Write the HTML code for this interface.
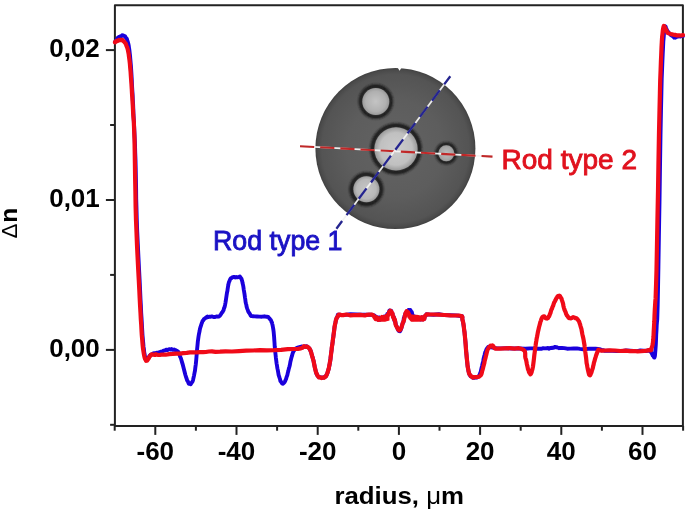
<!DOCTYPE html>
<html><head><meta charset="utf-8"><title>Delta n vs radius</title>
<style>html,body{margin:0;padding:0;background:#fff;} svg{display:block;filter:blur(0.4px);}</style>
</head><body>
<svg width="685" height="511" viewBox="0 0 685 511">
<rect x="114.9" y="5.3" width="568.0" height="420.59999999999997" fill="none" stroke="#222" stroke-width="2.0" stroke-linejoin="round"/>
<line x1="105.9" y1="50.1" x2="114.9" y2="50.1" stroke="#222" stroke-width="2.0"/>
<line x1="110.1" y1="125.0" x2="114.9" y2="125.0" stroke="#222" stroke-width="2.0"/>
<line x1="105.9" y1="200.0" x2="114.9" y2="200.0" stroke="#222" stroke-width="2.0"/>
<line x1="110.1" y1="274.9" x2="114.9" y2="274.9" stroke="#222" stroke-width="2.0"/>
<line x1="105.9" y1="349.9" x2="114.9" y2="349.9" stroke="#222" stroke-width="2.0"/>
<line x1="110.1" y1="424.8" x2="114.9" y2="424.8" stroke="#222" stroke-width="2.0"/>
<line x1="114.7" y1="425.9" x2="114.7" y2="430.7" stroke="#222" stroke-width="2.0"/>
<line x1="155.3" y1="425.9" x2="155.3" y2="434.9" stroke="#222" stroke-width="2.0"/>
<line x1="195.9" y1="425.9" x2="195.9" y2="430.7" stroke="#222" stroke-width="2.0"/>
<line x1="236.5" y1="425.9" x2="236.5" y2="434.9" stroke="#222" stroke-width="2.0"/>
<line x1="277.1" y1="425.9" x2="277.1" y2="430.7" stroke="#222" stroke-width="2.0"/>
<line x1="317.7" y1="425.9" x2="317.7" y2="434.9" stroke="#222" stroke-width="2.0"/>
<line x1="358.3" y1="425.9" x2="358.3" y2="430.7" stroke="#222" stroke-width="2.0"/>
<line x1="398.9" y1="425.9" x2="398.9" y2="434.9" stroke="#222" stroke-width="2.0"/>
<line x1="439.5" y1="425.9" x2="439.5" y2="430.7" stroke="#222" stroke-width="2.0"/>
<line x1="480.1" y1="425.9" x2="480.1" y2="434.9" stroke="#222" stroke-width="2.0"/>
<line x1="520.7" y1="425.9" x2="520.7" y2="430.7" stroke="#222" stroke-width="2.0"/>
<line x1="561.3" y1="425.9" x2="561.3" y2="434.9" stroke="#222" stroke-width="2.0"/>
<line x1="601.9" y1="425.9" x2="601.9" y2="430.7" stroke="#222" stroke-width="2.0"/>
<line x1="642.5" y1="425.9" x2="642.5" y2="434.9" stroke="#222" stroke-width="2.0"/>
<line x1="683.1" y1="425.9" x2="683.1" y2="430.7" stroke="#222" stroke-width="2.0"/>
<text x="99.8" y="57.0" text-anchor="end" font-family="'Liberation Sans', Arial, sans-serif" font-weight="bold" font-size="26" fill="#000">0,02</text>
<text x="99.8" y="207.0" text-anchor="end" font-family="'Liberation Sans', Arial, sans-serif" font-weight="bold" font-size="26" fill="#000">0,01</text>
<text x="99.8" y="357.0" text-anchor="end" font-family="'Liberation Sans', Arial, sans-serif" font-weight="bold" font-size="26" fill="#000">0,00</text>
<text x="155.3" y="460" text-anchor="middle" font-family="'Liberation Sans', Arial, sans-serif" font-weight="bold" font-size="26" fill="#000">-60</text>
<text x="236.5" y="460" text-anchor="middle" font-family="'Liberation Sans', Arial, sans-serif" font-weight="bold" font-size="26" fill="#000">-40</text>
<text x="317.7" y="460" text-anchor="middle" font-family="'Liberation Sans', Arial, sans-serif" font-weight="bold" font-size="26" fill="#000">-20</text>
<text x="398.9" y="460" text-anchor="middle" font-family="'Liberation Sans', Arial, sans-serif" font-weight="bold" font-size="26" fill="#000">0</text>
<text x="480.1" y="460" text-anchor="middle" font-family="'Liberation Sans', Arial, sans-serif" font-weight="bold" font-size="26" fill="#000">20</text>
<text x="561.3" y="460" text-anchor="middle" font-family="'Liberation Sans', Arial, sans-serif" font-weight="bold" font-size="26" fill="#000">40</text>
<text x="642.5" y="460" text-anchor="middle" font-family="'Liberation Sans', Arial, sans-serif" font-weight="bold" font-size="26" fill="#000">60</text>
<text x="334.4" y="504.2" font-family="'Liberation Sans', Arial, sans-serif" font-weight="bold" font-size="24" textLength="129.6" lengthAdjust="spacingAndGlyphs" fill="#000">radius, <tspan font-weight="normal">μ</tspan>m</text>
<text transform="translate(16.9 238.6) rotate(-90)" font-family="'Liberation Sans', Arial, sans-serif" font-size="24.5" fill="#000"><tspan font-weight="normal" font-size="22.5">Δ</tspan><tspan font-weight="bold" dx="0.8">n</tspan></text>

<defs>
 <radialGradient id="disk" cx="0.5" cy="0.5" r="0.5">
  <stop offset="0" stop-color="#636363"/>
  <stop offset="0.6" stop-color="#5d5d5d"/>
  <stop offset="0.92" stop-color="#545454"/>
  <stop offset="0.975" stop-color="#4a4a4a"/>
  <stop offset="1" stop-color="#404040"/>
 </radialGradient>
 <radialGradient id="core" cx="0.5" cy="0.5" r="0.5">
  <stop offset="0" stop-color="#cdcdcd"/>
  <stop offset="0.7" stop-color="#c4c4c4"/>
  <stop offset="1" stop-color="#b0b0b0"/>
 </radialGradient>
 <filter id="soft" x="-30%" y="-30%" width="160%" height="160%"><feGaussianBlur stdDeviation="0.85"/></filter>
 <filter id="soft2" x="-30%" y="-30%" width="160%" height="160%"><feGaussianBlur stdDeviation="0.5"/></filter>
</defs>
<ellipse cx="395.4" cy="148.5" rx="80.0" ry="80.6" fill="url(#disk)"/>
<polygon points="397.6,67.5 401.6,67.5 399.6,70.8" fill="#fff"/>
<radialGradient id="rg0" cx="0.5" cy="0.5" r="0.5"><stop offset="0" stop-color="#c4c4c4"/><stop offset="0.75" stop-color="#b0b0b0"/><stop offset="1" stop-color="#9a9a9a"/></radialGradient>
<circle cx="375.8" cy="101.5" r="15.25" fill="none" stroke="#1c1c1c" stroke-width="3.80" filter="url(#soft)"/>
<circle cx="375.8" cy="101.5" r="13.5" fill="url(#rg0)" filter="url(#soft2)"/>
<radialGradient id="rg1" cx="0.5" cy="0.5" r="0.5"><stop offset="0" stop-color="#cccccc"/><stop offset="0.75" stop-color="#c0c0c0"/><stop offset="1" stop-color="#9a9a9a"/></radialGradient>
<circle cx="396.0" cy="148.9" r="23.55" fill="none" stroke="#1c1c1c" stroke-width="4.20" filter="url(#soft)"/>
<circle cx="396.0" cy="148.9" r="21.6" fill="url(#rg1)" filter="url(#soft2)"/>
<radialGradient id="rg2" cx="0.5" cy="0.5" r="0.5"><stop offset="0" stop-color="#c6c6c6"/><stop offset="0.75" stop-color="#b8b8b8"/><stop offset="1" stop-color="#9a9a9a"/></radialGradient>
<circle cx="366.4" cy="189.2" r="14.90" fill="none" stroke="#1c1c1c" stroke-width="4.10" filter="url(#soft)"/>
<circle cx="366.4" cy="189.2" r="13.0" fill="url(#rg2)" filter="url(#soft2)"/>
<radialGradient id="rg3" cx="0.5" cy="0.5" r="0.5"><stop offset="0" stop-color="#bcbcbc"/><stop offset="0.75" stop-color="#a8a8a8"/><stop offset="1" stop-color="#9a9a9a"/></radialGradient>
<circle cx="446.3" cy="153.3" r="9.40" fill="none" stroke="#1c1c1c" stroke-width="3.10" filter="url(#soft)"/>
<circle cx="446.3" cy="153.3" r="8.0" fill="url(#rg3)" filter="url(#soft2)"/>
<line x1="300" y1="146.2" x2="492.5" y2="156.6" stroke="#f4f4f4" stroke-width="1.8" opacity="0.95"/>
<line x1="300" y1="146.2" x2="492.5" y2="156.6" stroke="#c02828" stroke-width="2.1" stroke-dasharray="14.2 6"/>
<line x1="336.4" y1="228.7" x2="450.3" y2="76.2" stroke="#f4f4f4" stroke-width="1.8" opacity="0.95"/>
<line x1="450.3" y1="76.2" x2="336.4" y2="228.7" stroke="#25258f" stroke-width="2.3" stroke-dasharray="13 7.4" stroke-dashoffset="2.8"/>

<text x="501.5" y="168.9" font-family="'Liberation Sans', 'DejaVu Sans', sans-serif" font-size="27.5" textLength="135.5" lengthAdjust="spacingAndGlyphs" fill="#e0121e" stroke="#e0121e" stroke-width="0.85">Rod type 2</text>
<text x="213" y="250.2" font-family="'Liberation Sans', 'DejaVu Sans', sans-serif" font-size="27" textLength="129.5" lengthAdjust="spacingAndGlyphs" fill="#1a12c4" stroke="#1a12c4" stroke-width="0.85">Rod type 1</text>
<path d="M115.0 41.8 L115.3 41.6 L115.8 40.8 L116.3 40.2 L116.9 39.4 L117.5 38.2 L118.0 37.6 L118.5 37.8 L119.0 36.9 L119.5 36.6 L120.0 36.9 L120.5 36.2 L121.0 36.3 L121.4 35.8 L121.9 35.7 L122.2 35.2 L122.6 35.5 L123.1 35.7 L123.5 35.5 L124.0 35.9 L124.5 36.2 L125.0 36.2 L125.5 37.2 L126.0 37.8 L126.5 38.3 L126.9 39.0 L127.3 40.6 L127.7 41.4 L128.1 42.9 L128.5 44.5 L128.8 46.2 L129.1 48.4 L129.4 50.2 L129.7 53.0 L130.0 55.4 L130.3 58.9 L130.6 62.3 L130.9 65.6 L131.2 70.1 L131.5 74.9 L131.8 80.4 L132.0 85.0 L132.3 90.1 L132.6 94.6 L132.8 99.5 L133.1 104.2 L133.3 109.1 L133.5 114.5 L133.8 120.1 L134.1 126.2 L134.4 132.0 L134.7 138.5 L135.0 145.1 L135.2 152.5 L135.5 160.1 L135.7 168.5 L135.9 178.4 L136.1 188.5 L136.2 198.8 L136.5 209.2 L136.8 220.2 L137.2 231.2 L137.8 244.0 L138.4 256.3 L139.0 268.3 L139.6 279.6 L140.1 290.3 L140.5 299.0 L140.9 305.9 L141.2 313.2 L141.6 319.0 L141.9 324.4 L142.2 329.8 L142.5 335.1 L142.9 339.5 L143.2 342.7 L143.5 346.5 L143.9 349.0 L144.2 352.2 L144.6 354.1 L144.9 356.2 L145.3 357.7 L145.7 358.3 L146.1 359.4 L146.5 359.3 L146.9 359.3 L147.3 359.5 L147.7 358.5 L148.1 358.0 L148.6 357.5 L149.0 357.1 L149.4 356.2 L149.8 355.6 L150.2 355.8 L150.6 354.8 L151.2 354.8 L152.0 354.3 L153.1 353.5 L154.4 353.2 L155.8 353.0 L157.3 352.7 L158.7 352.4 L160.0 352.0 L161.1 351.7 L162.2 351.6 L163.2 350.9 L164.2 350.5 L165.1 350.4 L166.0 349.8 L166.8 349.7 L167.4 350.1 L168.1 349.6 L168.7 349.6 L169.3 349.1 L170.0 349.4 L170.8 349.6 L171.6 349.1 L172.5 349.7 L173.4 349.8 L174.2 349.4 L175.0 350.1 L175.7 350.2 L176.3 350.6 L176.8 350.6 L177.4 351.2 L177.9 351.8 L178.5 352.1 L179.1 353.3 L179.6 355.1 L180.2 356.8 L180.8 358.0 L181.4 360.0 L182.0 362.1 L182.6 364.1 L183.3 366.8 L184.0 369.5 L184.7 372.3 L185.4 375.0 L186.0 376.8 L186.6 378.7 L187.2 380.6 L187.8 381.3 L188.4 382.8 L188.9 383.8 L189.5 383.8 L190.1 383.9 L190.7 384.2 L191.3 383.2 L191.9 382.4 L192.5 381.4 L193.0 380.2 L193.5 377.8 L194.0 375.6 L194.5 373.0 L195.0 370.5 L195.4 367.1 L195.8 364.3 L196.2 360.3 L196.5 356.6 L196.8 352.9 L197.1 349.2 L197.5 345.2 L197.8 341.8 L198.2 338.9 L198.5 336.8 L198.9 334.3 L199.2 332.8 L199.6 331.0 L200.0 328.7 L200.4 327.2 L200.8 326.2 L201.2 324.8 L201.6 323.7 L202.1 322.3 L202.5 321.2 L203.0 320.5 L203.4 320.2 L203.9 319.2 L204.4 318.7 L205.0 318.4 L205.5 317.9 L206.0 317.5 L206.4 317.6 L206.9 316.8 L207.4 316.4 L208.1 317.0 L209.0 316.8 L210.2 316.8 L211.8 316.4 L213.5 317.0 L215.2 317.0 L216.8 316.4 L218.0 316.7 L218.9 316.5 L219.6 316.0 L220.1 315.4 L220.6 314.7 L221.0 314.1 L221.5 313.3 L222.0 312.4 L222.6 311.9 L223.1 310.8 L223.6 310.1 L224.0 308.2 L224.5 307.3 L225.0 305.2 L225.4 303.1 L225.8 300.6 L226.2 298.0 L226.6 295.3 L227.0 292.6 L227.4 291.1 L227.7 288.6 L228.0 286.7 L228.3 285.2 L228.6 283.4 L229.0 281.9 L229.4 281.2 L229.9 279.9 L230.4 278.9 L230.9 278.2 L231.4 278.2 L232.0 277.5 L232.6 277.4 L233.2 277.0 L233.9 276.9 L234.6 277.2 L235.3 277.5 L236.0 277.0 L236.7 277.4 L237.5 277.3 L238.3 277.1 L239.1 277.0 L239.9 276.5 L240.5 277.4 L241.0 278.4 L241.5 278.7 L241.9 280.2 L242.3 281.6 L242.6 283.3 L243.0 284.9 L243.4 286.9 L243.7 289.3 L244.0 291.0 L244.4 293.3 L244.7 295.6 L245.0 297.7 L245.3 299.5 L245.6 302.1 L246.0 303.8 L246.3 304.8 L246.6 306.6 L247.0 307.9 L247.4 309.1 L247.8 310.1 L248.2 311.3 L248.6 312.1 L249.0 312.7 L249.5 313.3 L249.9 314.0 L250.2 314.5 L250.6 315.4 L251.1 316.0 L251.9 316.1 L253.0 316.2 L254.7 316.4 L257.0 316.5 L259.5 316.6 L262.0 316.7 L264.3 316.3 L266.0 316.7 L267.1 316.8 L267.9 316.9 L268.4 317.1 L268.8 317.6 L269.1 318.2 L269.5 318.4 L270.0 319.2 L270.4 319.6 L270.9 320.1 L271.3 321.1 L271.6 322.1 L272.0 322.7 L272.3 324.1 L272.6 325.3 L272.9 327.0 L273.2 328.6 L273.4 329.9 L273.7 332.3 L273.9 334.6 L274.1 336.9 L274.3 340.0 L274.5 342.7 L274.7 346.3 L275.0 349.1 L275.3 352.2 L275.6 355.1 L275.9 357.9 L276.3 360.9 L276.6 363.5 L277.0 365.7 L277.4 368.4 L277.8 370.2 L278.2 372.4 L278.6 374.9 L279.0 376.1 L279.5 377.7 L280.0 379.1 L280.4 381.0 L280.9 381.5 L281.4 382.3 L282.0 383.5 L282.5 383.2 L283.1 383.7 L283.6 383.2 L284.2 382.6 L284.8 381.8 L285.4 380.4 L286.0 379.2 L286.6 377.0 L287.2 375.6 L287.7 373.3 L288.3 371.1 L288.9 368.4 L289.4 366.7 L289.9 364.7 L290.4 361.7 L290.9 359.7 L291.4 357.7 L292.0 355.9 L292.5 353.8 L293.0 352.4 L293.5 351.3 L293.9 350.7 L294.5 350.0 L295.2 349.0 L296.0 348.4 L297.1 347.8 L298.5 347.3 L299.9 347.0 L301.4 346.5 L302.8 346.6 L304.0 346.9 L305.0 346.4 L305.8 346.7 L306.6 346.3 L307.3 346.9 L307.9 347.3 L308.5 347.6 L309.0 348.0 L309.5 348.6 L309.9 349.4 L310.2 350.4 L310.6 350.7 L311.0 351.7 L311.4 353.4 L311.8 354.9 L312.2 356.1 L312.7 357.6 L313.1 359.5 L313.5 360.7 L313.9 362.6 L314.3 364.5 L314.7 366.8 L315.1 368.6 L315.6 370.3 L316.0 372.2 L316.4 373.6 L316.9 374.1 L317.3 375.3 L317.8 375.8 L318.4 376.8 L319.0 377.1 L319.7 377.2 L320.6 377.4 L321.5 377.4 L322.4 377.8 L323.3 377.6 L324.0 377.2 L324.6 377.1 L325.2 376.7 L325.7 376.6 L326.1 375.4 L326.6 375.3 L327.0 374.0 L327.5 372.9 L327.9 371.5 L328.3 370.4 L328.7 368.8 L329.1 366.8 L329.5 365.0 L329.8 363.2 L330.2 361.2 L330.5 358.7 L330.7 356.7 L331.0 354.6 L331.3 352.0 L331.6 349.7 L331.8 347.6 L332.1 345.9 L332.4 343.8 L332.7 341.8 L333.0 339.3 L333.4 336.1 L333.8 333.0 L334.2 329.9 L334.6 326.7 L335.1 324.4 L335.5 322.3 L335.9 320.6 L336.3 318.8 L336.7 318.3 L337.1 317.1 L337.6 316.5 L338.0 316.2 L338.1 315.2 L337.9 314.9 L337.7 315.3 L337.9 314.8 L338.9 314.7 L341.0 314.9 L344.9 314.9 L350.3 314.3 L356.5 314.5 L362.7 314.7 L368.1 314.8 L372.0 314.8 L374.1 315.4 L375.0 316.1 L375.1 315.9 L374.9 316.7 L374.7 316.8 L375.0 317.3 L375.7 318.3 L376.5 317.0 L377.3 319.4 L378.2 319.6 L379.1 317.4 L380.0 319.7 L381.0 318.0 L382.0 318.7 L383.1 318.3 L384.2 316.5 L385.2 317.0 L386.0 316.4 L386.7 316.2 L387.3 314.0 L387.8 314.6 L388.2 314.5 L388.6 313.0 L389.0 312.1 L389.4 310.5 L389.7 311.2 L389.9 310.5 L390.2 311.3 L390.5 311.2 L390.8 311.2 L391.2 310.7 L391.6 312.8 L392.1 313.7 L392.5 313.6 L393.0 316.8 L393.5 317.4 L394.0 317.3 L394.5 321.1 L395.0 320.5 L395.5 322.7 L396.0 325.3 L396.5 326.1 L397.0 327.3 L397.5 328.7 L398.0 329.7 L398.5 330.6 L399.0 331.1 L399.5 331.2 L400.0 331.3 L400.5 330.4 L401.0 329.0 L401.5 327.7 L402.0 325.8 L402.5 323.8 L402.9 322.7 L403.4 322.3 L403.8 318.2 L404.2 317.8 L404.6 315.6 L405.0 315.8 L405.4 313.6 L405.8 312.8 L406.2 312.4 L406.6 312.3 L407.0 312.6 L407.5 311.1 L408.0 312.2 L408.6 310.0 L409.3 310.4 L409.9 309.9 L410.5 310.1 L411.0 312.3 L411.4 312.7 L411.7 311.9 L412.0 312.8 L412.3 314.3 L412.6 316.0 L413.0 316.9 L413.4 317.2 L413.8 317.2 L414.2 316.3 L414.7 317.3 L415.3 316.9 L416.0 318.1 L417.0 318.4 L418.2 317.6 L419.5 317.9 L420.8 319.5 L422.0 317.3 L423.0 319.3 L423.7 319.2 L424.3 318.8 L424.7 316.5 L425.1 316.1 L425.5 315.5 L426.0 315.1 L426.3 315.1 L426.3 314.7 L426.4 314.3 L426.8 314.7 L427.9 314.4 L430.0 314.6 L433.7 314.8 L438.8 314.3 L444.5 315.1 L450.3 315.2 L455.4 315.4 L459.0 315.8 L461.1 316.2 L462.1 316.3 L462.4 317.1 L462.4 317.3 L462.3 318.6 L462.5 320.1 L463.0 321.8 L463.4 324.1 L463.8 326.9 L464.1 329.5 L464.5 331.8 L464.8 335.2 L465.1 338.2 L465.4 341.1 L465.7 344.8 L465.9 348.2 L466.2 351.5 L466.5 355.0 L466.8 358.4 L467.1 360.9 L467.4 364.2 L467.7 366.7 L468.1 368.7 L468.5 371.3 L469.0 372.7 L469.4 374.3 L469.9 375.2 L470.5 376.1 L471.2 376.4 L472.0 377.2 L473.0 377.7 L474.2 377.8 L475.5 377.4 L476.8 377.5 L478.0 376.8 L479.0 375.7 L479.7 374.5 L480.3 373.0 L480.8 371.4 L481.2 369.5 L481.6 367.8 L482.0 366.2 L482.4 364.2 L482.9 362.2 L483.3 360.4 L483.7 358.2 L484.1 356.6 L484.5 355.2 L484.9 353.5 L485.3 352.1 L485.7 351.5 L486.1 350.3 L486.6 349.1 L487.0 348.4 L487.4 347.9 L487.8 347.6 L488.2 347.0 L488.7 346.7 L489.3 346.8 L490.0 347.2 L490.6 346.8 L491.1 347.3 L491.6 347.4 L492.6 347.7 L494.3 348.0 L497.0 348.4 L501.2 348.4 L506.7 348.3 L513.0 348.5 L519.4 348.5 L525.2 348.8 L530.0 348.4 L533.6 348.4 L536.6 348.7 L539.1 348.6 L541.3 348.8 L543.2 348.2 L545.0 348.4 L546.7 348.3 L548.0 348.0 L549.2 348.7 L550.2 348.0 L551.1 347.8 L552.0 348.0 L552.8 347.6 L553.5 347.8 L554.1 347.4 L554.6 347.0 L555.3 346.9 L556.0 347.4 L556.7 347.1 L557.4 347.6 L558.1 347.6 L559.0 348.2 L560.3 347.9 L562.0 348.0 L564.3 348.1 L567.1 348.7 L570.2 348.6 L573.6 348.5 L576.9 348.4 L580.0 348.9 L583.1 349.3 L586.4 349.0 L589.7 348.6 L592.8 348.7 L595.6 348.8 L598.0 349.0 L599.6 349.1 L600.5 349.3 L601.1 350.0 L601.7 350.5 L602.9 350.1 L605.0 350.9 L608.2 350.6 L612.3 350.9 L616.8 351.1 L621.5 351.1 L626.0 350.4 L630.0 350.6 L633.6 350.9 L637.1 351.1 L640.4 350.4 L643.4 350.6 L645.9 351.0 L648.0 350.5 L649.4 350.8 L650.1 350.9 L650.5 351.3 L650.6 351.7 L650.7 351.3 L651.0 352.2 L651.5 352.8 L651.9 353.7 L652.3 354.5 L652.8 355.7 L653.1 355.9 L653.5 356.4 L653.8 356.7 L654.1 357.5 L654.3 357.6 L654.5 357.3 L654.8 356.4 L655.0 355.2 L655.2 352.5 L655.5 349.1 L655.8 344.8 L656.0 340.3 L656.2 335.0 L656.5 330.2 L656.7 325.4 L656.9 322.9 L657.2 319.9 L657.4 314.4 L657.7 304.6 L658.0 289.8 L658.4 267.0 L658.9 236.1 L659.5 201.7 L660.0 166.7 L660.5 134.8 L661.0 110.3 L661.4 92.5 L661.7 78.9 L662.1 68.9 L662.4 60.9 L662.7 54.5 L663.0 48.4 L663.3 41.6 L663.7 37.3 L664.0 33.4 L664.3 30.7 L664.7 29.2 L665.0 27.3 L665.3 26.3 L665.6 26.5 L665.9 27.6 L666.3 28.7 L666.6 29.3 L667.0 30.3 L667.4 31.4 L667.9 31.4 L668.4 32.3 L668.9 32.8 L669.4 33.6 L670.0 34.1 L670.6 34.8 L671.3 35.3 L672.0 35.7 L672.7 36.2 L673.4 36.6 L674.0 37.6 L674.5 37.1 L675.0 37.1 L675.4 37.7 L675.8 36.9 L676.3 37.3 L677.0 36.5 L677.9 36.6 L679.0 36.2 L680.2 36.5 L681.3 36.2 L682.3 36.0 L683.0 36.0" fill="none" stroke="#1a00dc" stroke-width="3.9" stroke-linejoin="round" stroke-linecap="round"/>
<path d="M115.0 42.3 L115.3 41.7 L115.8 41.7 L116.3 41.2 L116.9 40.7 L117.5 41.0 L118.0 40.6 L118.5 40.6 L119.0 39.9 L119.5 40.1 L120.0 40.0 L120.5 40.1 L121.0 39.7 L121.5 40.0 L122.0 40.2 L122.5 40.0 L123.0 40.7 L123.5 41.2 L124.0 41.4 L124.5 42.2 L125.0 42.8 L125.5 43.3 L126.0 44.3 L126.5 46.0 L127.0 46.9 L127.5 48.5 L127.9 50.0 L128.3 52.1 L128.7 54.2 L129.1 57.4 L129.5 60.2 L129.9 63.8 L130.2 67.8 L130.6 71.8 L130.9 76.6 L131.2 80.7 L131.5 84.9 L131.8 89.5 L132.0 93.5 L132.3 97.5 L132.5 101.3 L132.8 105.8 L133.0 109.9 L133.2 114.5 L133.5 118.1 L133.8 121.4 L134.0 126.5 L134.2 131.8 L134.5 139.7 L134.7 150.7 L134.9 163.2 L135.1 177.5 L135.4 192.3 L135.6 206.3 L136.0 220.2 L136.5 232.4 L137.0 245.1 L137.6 257.4 L138.2 269.5 L138.8 280.4 L139.3 289.8 L139.7 298.3 L140.1 306.1 L140.5 312.9 L140.8 318.8 L141.2 324.4 L141.5 330.2 L141.8 335.0 L142.2 339.5 L142.5 343.4 L142.8 346.6 L143.1 349.2 L143.5 351.7 L143.9 354.2 L144.3 356.2 L144.7 357.8 L145.1 359.0 L145.6 359.7 L146.0 360.8 L146.4 360.6 L146.8 360.6 L147.2 360.6 L147.7 359.9 L148.1 358.9 L148.5 358.3 L148.9 358.2 L149.3 356.9 L149.7 356.4 L150.1 356.0 L150.5 355.5 L151.0 354.7 L151.6 354.4 L152.2 354.3 L152.8 354.7 L153.5 354.5 L154.3 354.9 L155.0 354.7 L155.6 354.9 L156.0 354.3 L156.5 354.6 L157.2 354.6 L158.3 355.0 L160.0 354.9 L162.5 354.5 L165.6 354.7 L169.1 354.1 L172.8 353.9 L176.5 353.6 L180.0 353.7 L183.3 353.2 L186.7 352.8 L190.0 352.3 L193.3 352.4 L196.7 352.3 L200.0 352.1 L203.1 352.2 L205.9 352.0 L208.8 351.5 L211.9 351.4 L215.5 351.8 L220.0 351.7 L225.5 351.4 L231.9 351.5 L238.9 351.1 L246.1 350.7 L253.2 350.5 L260.0 350.1 L266.8 350.3 L274.0 350.2 L281.1 349.9 L287.8 349.2 L293.5 349.0 L298.0 348.8 L300.9 348.4 L302.4 347.8 L303.1 347.2 L303.3 347.0 L303.5 346.4 L304.0 346.2 L304.9 346.6 L305.7 346.9 L306.5 346.6 L307.2 346.7 L307.9 347.0 L308.5 347.5 L309.0 348.2 L309.5 348.5 L309.9 349.6 L310.2 349.8 L310.6 350.8 L311.0 352.0 L311.4 353.1 L311.8 354.9 L312.2 356.4 L312.7 358.0 L313.1 359.4 L313.5 360.6 L313.9 362.8 L314.3 364.8 L314.7 366.7 L315.1 368.5 L315.6 370.7 L316.0 372.3 L316.4 372.9 L316.9 374.4 L317.3 375.1 L317.8 375.9 L318.4 376.8 L319.0 377.4 L319.7 377.5 L320.6 377.4 L321.5 378.1 L322.4 377.5 L323.3 377.6 L324.0 377.8 L324.6 377.1 L325.2 376.7 L325.7 376.7 L326.1 376.1 L326.6 374.8 L327.0 373.9 L327.5 372.7 L327.9 371.3 L328.3 369.9 L328.7 368.9 L329.1 366.5 L329.5 364.8 L329.8 362.8 L330.2 360.6 L330.5 358.8 L330.7 356.7 L331.0 354.5 L331.3 352.1 L331.6 350.1 L331.8 347.4 L332.1 345.6 L332.4 344.0 L332.7 341.1 L333.0 338.8 L333.4 336.3 L333.8 333.0 L334.2 330.1 L334.6 326.6 L335.1 324.0 L335.5 322.4 L335.9 320.0 L336.3 319.3 L336.7 317.8 L337.1 317.6 L337.6 316.7 L338.0 316.1 L338.3 315.2 L338.4 314.8 L338.5 315.2 L338.8 314.6 L339.6 314.6 L341.0 315.1 L343.3 315.1 L346.4 314.5 L349.9 315.3 L353.6 315.1 L357.1 315.1 L360.0 314.9 L362.5 315.1 L364.9 315.5 L367.0 314.8 L368.9 314.6 L370.6 314.6 L372.0 314.7 L373.0 315.2 L373.6 316.0 L373.9 315.8 L374.2 316.4 L374.5 317.5 L375.0 317.9 L375.7 319.1 L376.5 317.3 L377.3 317.8 L378.2 319.7 L379.1 318.5 L380.0 319.1 L381.0 317.9 L382.0 316.9 L383.1 317.6 L384.2 318.5 L385.2 318.2 L386.0 317.2 L386.7 316.3 L387.3 315.9 L387.8 314.8 L388.2 314.3 L388.6 314.5 L389.0 312.2 L389.4 312.8 L389.7 313.4 L389.9 312.8 L390.2 310.7 L390.5 312.9 L390.8 312.8 L391.2 311.3 L391.6 312.3 L392.1 312.9 L392.5 313.5 L393.0 317.2 L393.5 316.7 L394.0 319.4 L394.5 318.8 L395.0 320.2 L395.5 324.2 L396.0 325.5 L396.5 326.4 L397.0 327.3 L397.5 328.2 L398.0 329.4 L398.5 329.6 L399.0 330.4 L399.5 330.5 L400.0 329.9 L400.5 329.5 L401.0 328.2 L401.5 327.2 L402.0 325.7 L402.5 324.0 L402.9 322.6 L403.4 321.6 L403.8 320.9 L404.2 319.0 L404.6 317.3 L405.0 315.9 L405.4 313.4 L405.8 314.6 L406.2 311.9 L406.6 311.1 L407.1 312.0 L407.5 312.7 L407.9 312.0 L408.4 313.6 L408.8 313.6 L409.3 316.6 L409.8 316.2 L410.5 316.9 L411.3 317.5 L412.1 318.7 L413.0 319.1 L414.0 317.9 L415.0 317.7 L416.0 318.3 L417.1 317.0 L418.4 318.1 L419.7 319.5 L420.9 319.4 L422.0 317.4 L423.0 319.5 L423.7 317.8 L424.3 318.9 L424.7 316.4 L425.1 315.9 L425.5 315.5 L426.0 315.3 L426.3 314.7 L426.3 314.8 L426.4 314.6 L426.8 314.3 L427.9 314.3 L430.0 314.5 L433.7 314.5 L438.8 314.6 L444.5 315.0 L450.3 315.4 L455.4 315.5 L459.0 315.5 L461.1 316.0 L462.1 316.5 L462.4 317.1 L462.4 317.4 L462.3 318.3 L462.5 319.9 L463.0 321.6 L463.4 323.6 L463.8 326.5 L464.1 329.6 L464.5 332.1 L464.8 335.2 L465.1 338.4 L465.4 341.7 L465.7 345.3 L465.9 348.4 L466.2 352.0 L466.5 354.7 L466.8 358.3 L467.1 360.9 L467.4 363.9 L467.7 366.9 L468.1 368.8 L468.5 370.8 L468.9 372.9 L469.4 374.1 L469.9 374.7 L470.4 375.5 L471.1 376.4 L472.0 376.6 L473.1 377.6 L474.5 377.2 L476.0 377.2 L477.5 377.0 L478.9 376.7 L480.0 375.9 L480.8 375.2 L481.4 374.0 L481.9 372.4 L482.3 370.6 L482.6 369.8 L483.0 368.2 L483.4 366.4 L483.7 365.4 L484.0 364.3 L484.3 363.2 L484.6 361.1 L485.0 359.6 L485.4 358.4 L485.8 356.5 L486.2 355.0 L486.6 353.2 L487.1 351.2 L487.5 349.9 L487.9 349.1 L488.3 348.5 L488.7 347.4 L489.1 347.1 L489.6 346.5 L490.0 346.6 L490.5 345.8 L490.9 346.3 L491.4 345.9 L491.9 345.9 L492.4 345.5 L493.0 345.8 L493.4 346.2 L493.5 347.0 L493.6 347.2 L494.1 347.5 L495.1 348.6 L497.0 348.6 L500.2 348.6 L504.6 348.3 L509.5 348.2 L514.5 348.6 L518.8 348.2 L522.0 349.0 L523.8 350.1 L524.8 351.2 L525.2 353.1 L525.2 354.9 L525.2 356.6 L525.5 358.2 L526.0 359.5 L526.4 361.4 L526.8 363.7 L527.2 365.6 L527.6 367.2 L528.0 369.3 L528.5 370.1 L528.9 371.9 L529.4 373.0 L529.9 373.2 L530.4 374.3 L530.8 373.9 L531.2 373.3 L531.6 372.3 L531.9 370.9 L532.3 369.7 L532.7 367.9 L533.0 366.3 L533.3 364.0 L533.7 360.8 L534.0 358.2 L534.3 355.3 L534.7 352.3 L535.0 349.8 L535.3 347.5 L535.6 345.6 L535.9 343.2 L536.3 340.9 L536.6 338.9 L537.0 337.0 L537.4 334.8 L537.9 332.1 L538.4 330.0 L539.0 327.3 L539.5 325.5 L540.0 323.6 L540.5 321.6 L541.0 320.6 L541.4 318.9 L541.9 318.0 L542.4 317.1 L543.0 316.6 L543.6 316.3 L544.3 316.3 L545.0 317.5 L545.7 318.2 L546.4 318.4 L547.0 318.6 L547.5 318.1 L547.9 318.2 L548.3 317.5 L548.7 316.5 L549.1 316.2 L549.5 315.4 L550.0 313.8 L550.4 313.1 L550.9 311.3 L551.4 309.6 L552.0 308.6 L552.5 306.9 L553.1 305.8 L553.6 304.2 L554.2 302.4 L554.9 301.3 L555.4 300.3 L556.0 299.0 L556.5 298.1 L557.0 297.6 L557.5 296.5 L558.0 296.1 L558.5 295.8 L559.0 296.0 L559.5 295.7 L560.0 296.0 L560.5 297.2 L561.0 297.8 L561.5 298.6 L562.0 300.3 L562.5 301.8 L563.0 303.4 L563.4 305.7 L563.9 307.7 L564.4 309.5 L565.0 310.8 L565.6 312.1 L566.2 314.1 L566.9 315.4 L567.6 316.3 L568.3 317.3 L569.0 318.1 L569.8 318.1 L570.6 318.4 L571.5 318.1 L572.4 317.6 L573.2 317.2 L574.0 317.5 L574.7 317.6 L575.5 318.2 L576.2 318.1 L576.8 318.7 L577.4 319.1 L578.0 319.9 L578.5 320.8 L578.9 321.2 L579.3 322.1 L579.7 323.5 L580.1 324.4 L580.5 326.0 L580.9 327.3 L581.4 328.9 L581.8 331.2 L582.2 333.4 L582.6 335.3 L583.0 337.0 L583.4 338.8 L583.7 340.4 L584.0 342.5 L584.4 344.5 L584.7 347.1 L585.0 348.7 L585.3 351.9 L585.6 354.2 L586.0 357.1 L586.3 359.8 L586.6 363.0 L587.0 364.7 L587.4 367.2 L587.8 369.3 L588.2 371.0 L588.6 372.7 L589.1 374.6 L589.5 375.2 L589.9 375.3 L590.3 375.1 L590.8 373.6 L591.2 373.1 L591.6 371.9 L592.0 370.3 L592.4 369.2 L592.8 368.1 L593.2 366.0 L593.6 364.6 L594.0 362.4 L594.5 361.1 L595.0 359.0 L595.6 357.2 L596.2 355.1 L596.8 353.6 L597.4 351.8 L598.0 350.5 L598.4 350.0 L598.4 349.6 L598.5 350.1 L598.9 349.9 L599.9 350.4 L602.0 350.6 L605.4 350.5 L609.9 350.3 L615.1 350.5 L620.4 351.0 L625.6 350.7 L630.0 351.2 L633.9 351.0 L637.6 351.3 L641.1 351.2 L644.2 351.0 L646.9 350.6 L649.0 350.1 L650.4 350.3 L651.1 350.2 L651.3 350.1 L651.3 349.1 L651.3 348.5 L651.5 348.4 L651.8 347.4 L652.1 346.5 L652.4 345.9 L652.7 344.2 L652.9 342.7 L653.2 340.1 L653.5 336.5 L653.7 331.7 L654.0 326.7 L654.3 321.7 L654.5 316.1 L654.8 309.7 L655.1 304.9 L655.3 301.5 L655.6 298.4 L655.8 292.5 L656.1 283.7 L656.5 270.4 L656.9 249.2 L657.4 221.7 L658.0 191.5 L658.5 160.1 L659.0 132.2 L659.5 110.2 L659.9 93.3 L660.2 80.2 L660.6 70.3 L660.9 61.9 L661.2 55.2 L661.5 47.7 L661.8 42.1 L662.1 37.0 L662.5 33.7 L662.8 30.7 L663.1 28.8 L663.5 26.9 L663.9 25.9 L664.3 26.2 L664.7 27.2 L665.1 28.0 L665.6 29.0 L666.0 29.9 L666.4 30.3 L666.7 31.1 L667.0 31.9 L667.4 32.5 L667.9 33.1 L668.5 33.3 L669.3 33.5 L670.3 33.8 L671.4 34.3 L672.6 34.4 L673.8 34.9 L675.0 34.8 L676.3 35.3 L677.9 35.3 L679.4 35.4 L680.9 35.5 L682.1 35.3 L683.0 35.2" fill="none" stroke="#f00a18" stroke-width="4.2" stroke-linejoin="round" stroke-linecap="round"/>
<polygon points="375,317 381,316.5 387,313.5 389.5,312.5 389.5,320.5 385,321.8 378,321.8 375,320" fill="#f00a18"/>
<polygon points="408.5,313 412,314.5 418,315 423.5,316 423.5,320.5 418,321.8 411,321.8 408.5,319" fill="#f00a18"/>
</svg>
</body></html>
